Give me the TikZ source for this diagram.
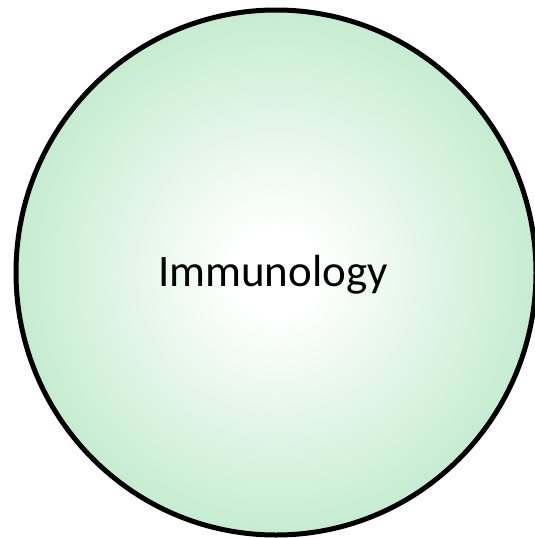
\documentclass[tikz,border=0pt]{standalone}
\usepackage{fontspec}
\setmainfont{Carlito}
\usepackage{tikz}
\definecolor{immunogreen}{RGB}{184,232,196}
\pgfdeclareradialshading{immunoglow}{\pgfpoint{0bp}{0bp}}{%
  color(0bp)=(white); color(4bp)=(white); color(30bp)=(immunogreen); color(72bp)=(immunogreen)}

\begin{document}
\begin{tikzpicture}[x=1pt,y=-1pt]
    \useasboundingbox (0,0) rectangle (535,538);
    \draw[line width=5pt,shading=immunoglow] (276,272.5) ellipse[x radius=260, y radius=262.5];
    \node (immunology) at (273,275) {\fontsize{45}{54}\selectfont Immunology};
  \end{tikzpicture}
\end{document}
